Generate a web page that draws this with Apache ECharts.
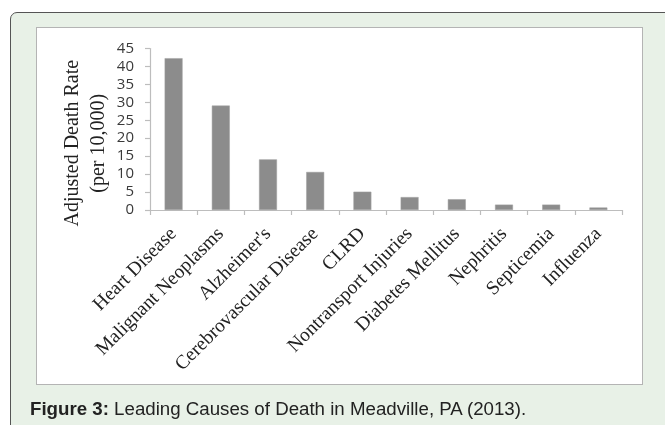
<!DOCTYPE html>
<html>
<head>
<meta charset="utf-8">
<script src="https://cdn.jsdelivr.net/npm/echarts@6/dist/echarts.min.js"></script>
<style>
  html, body { margin: 0; padding: 0; width: 665px; height: 425px; overflow: hidden; background: #ffffff; }
  #panel {
    position: absolute; left: 10px; top: 12px; width: 680px; height: 440px;
    background: #e8f1e7; border: 1.5px solid #555; border-radius: 7px; box-sizing: border-box;
  }
  #frame {
    position: absolute; left: 36px; top: 27px; width: 607px; height: 358px;
    background: #ffffff; border: 1px solid #b4b4b4; box-sizing: border-box;
  }
  #chart { position: absolute; left: 0; top: 0; width: 665px; height: 425px; }
  #caption {
    position: absolute; left: 30px; top: 399.5px; font-family: "Liberation Sans", Arial, sans-serif;
    font-size: 18.7px; line-height: 1; color: #222; white-space: nowrap;
  }
  #caption b { font-weight: bold; }
</style>
</head>
<body>
<div id="panel"></div>
<div id="frame"></div>
<div id="chart"></div>
<div id="caption"><b>Figure 3:</b> Leading Causes of Death in Meadville, PA (2013).</div>
<script>
// Leading causes of death, age-adjusted rate per 10,000 residents
const causes = [
  'Heart Disease', 'Malignant Neoplasms', "Alzheimer's", 'Cerebrovascular Disease',
  'CLRD', 'Nontransport Injuries', 'Diabetes Mellitus', 'Nephritis', 'Septicemia', 'Influenza'
];
const deathRates = [42.3, 29.1, 14.1, 10.6, 5.1, 3.6, 3.0, 1.5, 1.5, 0.7];
const yTicks = { min: 0, max: 45, step: 5 };
const yTitle = 'Adjusted Death Rate\n(per 10,000)';

const serif = '"Liberation Serif", "Times New Roman", serif';

const chart = echarts.init(document.getElementById('chart'), null, { renderer: 'canvas' });
chart.setOption({
  animation: false,
  backgroundColor: 'transparent',
  grid: { left: 150, right: 43, top: 48.5, bottom: 215, containLabel: false },
  xAxis: {
    type: 'category',
    data: causes,
    axisLine: { show: true, lineStyle: { color: '#bdbdbd', width: 1.2 } },
    axisTick: { show: true, length: 5, lineStyle: { color: '#bdbdbd', width: 1.2 } },
    axisLabel: {
      interval: 0, rotate: 45, margin: 21,
      fontFamily: serif, fontSize: 19.5, color: '#222'
    }
  },
  yAxis: {
    type: 'value',
    min: yTicks.min, max: yTicks.max, interval: yTicks.step,
    name: yTitle,
    nameLocation: 'middle',
    nameRotate: 90,
    nameGap: 38,
    nameMoveOverlap: false,
    nameTextStyle: {
      fontFamily: serif, fontSize: 20, color: '#222', lineHeight: 26,
      padding: [0, 28, 0, 0]
    },
    axisLine: { show: true, lineStyle: { color: '#bdbdbd', width: 1.2 } },
    axisTick: { show: true, length: 5, lineStyle: { color: '#bdbdbd', width: 1.2 } },
    splitLine: { show: false },
    axisLabel: {
      margin: 16, fontFamily: '"Open Sans", "Noto Sans", sans-serif', fontSize: 15, color: '#3a3a3a'
    }
  },
  series: [{
    type: 'bar',
    data: deathRates,
    barWidth: '38%',
    itemStyle: { color: '#8c8c8c', borderColor: '#a0a0a0', borderWidth: 0.5 }
  }]
});
</script>
</body>
</html>
